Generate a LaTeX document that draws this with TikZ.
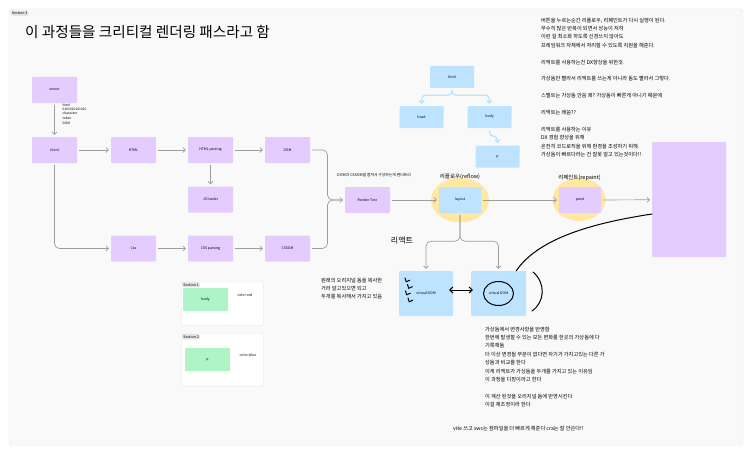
\documentclass[tikz,border=0pt]{standalone}
\usepackage{fontspec}
\setmainfont{Noto Sans CJK KR}
\usetikzlibrary{arrows.meta,positioning}
\definecolor{boxpurple}{HTML}{E4CCFF}
\definecolor{boxblue}{HTML}{BDE3FF}
\definecolor{boxgreen}{HTML}{AFF4C6}
\definecolor{hiyellow}{HTML}{FFE8A3}
\definecolor{linegray}{HTML}{9E9E9E}
\definecolor{framegray}{HTML}{E4E4E4}
\definecolor{pagegray}{HTML}{F9F9F9}

\begin{document}
\begin{tikzpicture}[x=1pt,y=-1pt,>={Straight Barb[length=2.5pt,width=5pt]},
  box/.style={minimum width=45pt,minimum height=26pt,inner sep=0pt,rounded corners=1pt,font=\fontsize{3.5}{4}\selectfont},
  purplebox/.style={box,fill=boxpurple},
  bluebox/.style={box,fill=boxblue,minimum width=44pt,minimum height=22pt},
  greenbox/.style={box,fill=boxgreen,minimum height=23pt},
  flow/.style={->,draw=linegray,line width=0.7pt,rounded corners=5pt,shorten <=2pt,shorten >=2pt},
  treeflow/.style={->,draw=boxblue,line width=1.3pt,rounded corners=4pt},
  pen/.style={black,line width=1pt,line cap=round,line join=round},
  tag/.style={fill=framegray,rounded corners=1.5pt,inner sep=1.2pt,anchor=north west,font=\fontsize{3.6}{4}\selectfont},
  note/.style={align=left,anchor=north west,inner sep=0pt,font=\fontsize{5.2}{8.4}\selectfont}]
  \useasboundingbox (0,0) rectangle (750,452);
  \fill[white] (0,0) rectangle (750,452);
  \draw[framegray,fill=pagegray,rounded corners=3pt] (9,9) rectangle (743,445);
  \node[tag] (sec3) at (10.5,10.5) {Section 3};
  \node[anchor=west,inner sep=0pt,font=\fontsize{14.6}{16}\selectfont] (title) at (25,32) {이 과정들을 크리티컬 렌더링 패스라고 함};

  % html / css pipeline
  \node[purplebox] (server) at (54.5,90) {server};
  \node[purplebox] (client) at (54.5,150) {client};
  \node[purplebox] (html) at (133.5,150) {HTML};
  \node[purplebox] (htmlparse) at (210.5,150) {HTML parsing};
  \node[purplebox] (dom) at (287.5,150) {DOM};
  \node[purplebox] (jsload) at (210.5,199.5) {JS loader};
  \node[purplebox] (css) at (133.5,248.5) {Css};
  \node[purplebox] (cssparse) at (210.5,248.5) {CSS parsing};
  \node[purplebox] (cssom) at (287.5,248.5) {CSSOM};
  \node[purplebox] (render) at (367.5,200) {Render Tree};
  \node[anchor=north west,align=left,inner sep=0pt,font=\fontsize{3.3}{4.3}\selectfont] (tokennote) at (62.5,103.5) {html\\0101010101010\\character\\token\\[1pt]DOM};
  \node[anchor=west,inner sep=0pt,font=\fontsize{3.8}{4}\selectfont] (rendernote) at (337,175) {DOM과 CSSOM을 합쳐서 구성하는게 렌더트리};

  \draw[flow] (server) -- (client);
  \draw[flow] (client) -- (html);
  \draw[flow] (html) -- (htmlparse);
  \draw[flow] (htmlparse) -- (dom);
  \draw[flow] (htmlparse) -- (jsload);
  \draw[flow] (client.south) |- (css.west);
  \draw[flow] (css) -- (cssparse);
  \draw[flow] (cssparse) -- (cssom);
  \coordinate (merge) at (327.5,200);
  \draw[flow] (dom.east) -| (merge) -- (render.west);
  \draw[flow,-] (cssom.east) -| (merge) -- (render.west);

  % reflow / repaint
  \fill[hiyellow] (460,200) ellipse [x radius=29pt,y radius=22.5pt];
  \fill[hiyellow] (579,199.5) ellipse [x radius=26.5pt,y radius=21.5pt];
  \node[bluebox,minimum width=42pt,minimum height=26pt] (layout) at (460,200) {layout};
  \node[purplebox,minimum width=42pt] (paint) at (580,200) {paint};
  \node[inner sep=0pt,font=\fontsize{5.5}{6}\selectfont] (reflowlbl) at (460,176.5) {리플로우(reflow)};
  \node[inner sep=0pt,font=\fontsize{5.5}{6}\selectfont] (repaintlbl) at (579.5,177.5) {리페인트(repaint)};
  \node[fill=boxpurple,rounded corners=1pt,minimum width=74pt,minimum height=115pt,inner sep=0pt,anchor=north west] (bigbox) at (652,142) {};
  \draw[flow] (render) -- (layout);
  \draw[flow] (layout) -- (paint);
  \draw[flow] (paint) -- (bigbox);

  % dom tree
  \node[bluebox] (thtml) at (452,77) {html};
  \node[bluebox] (thead) at (421.5,117) {head};
  \node[bluebox] (tbody) at (489.5,117) {body};
  \node[bluebox] (tp) at (497.5,156.5) {p};
  \draw[treeflow] ([yshift=-2pt]thtml.south) -- ++(0,5) -| ([yshift=2pt]thead.north);
  \draw[treeflow] ([yshift=-2pt]thtml.south) -- ++(0,5) -| ([yshift=2pt]tbody.north);
  \draw[treeflow] ([yshift=-2pt]tbody.south) -- ++(0,6) -| ([yshift=2pt]tp.north);

  % react
  \node[inner sep=0pt,font=\fontsize{8}{9}\selectfont] (reactlbl) at (402,241) {리액트};
  \node[bluebox,minimum width=54pt,minimum height=45pt] (vdomleft) at (426,293.5) {virtual DOM};
  \node[bluebox,minimum width=55pt,minimum height=45pt] (vdomright) at (498.5,293.5) {virtual DOM};
  \draw[flow] (layout.south) -- ++(0,28) -| (vdomleft.north);
  \draw[flow] (layout.south) -- ++(0,28) -| (vdomright.north);
  \draw[pen,<->,>={Straight Barb[length=3pt,width=6pt]}] ([xshift=-4pt,yshift=3.5pt]vdomleft.east) -- ([xshift=2pt,yshift=3.5pt]vdomright.west);
  \foreach \cx/\cy in {405/278,407.5/284.5,405.5/291,408/298}
    \draw[pen] (\cx,\cy) -- ++(1.2,3.8) -- ++(3.6,-1.6);
  \draw[pen] (vdomright.center) ellipse [x radius=15pt,y radius=12pt];
  \draw[pen] (533,272) .. controls (546,283) and (545,302) .. (532,311);
  \coordinate (curveend) at (652,214);
  \draw[pen] ([xshift=-10pt]vdomright.north east) .. controls (540,236) and (600,222) .. (curveend);

  % section frames
  \node[draw=framegray,fill=white,rounded corners=2pt,minimum width=82pt,minimum height=44pt,inner sep=0pt,anchor=north west] (sec1) at (181,281) {};
  \node[tag] (sec1tag) at (182,282) {Section 1};
  \node[greenbox] (greenbody) at (205.5,299.5) {body};
  \node[inner sep=0pt,font=\fontsize{3.5}{4}\selectfont] (colorred) at (245,295) {color:red};
  \node[draw=framegray,fill=white,rounded corners=2pt,minimum width=82pt,minimum height=53pt,inner sep=0pt,anchor=north west] (sec2) at (181,333) {};
  \node[tag] (sec2tag) at (182,334) {Section 2};
  \node[greenbox] (greenp) at (207.5,359.5) {p};
  \node[inner sep=0pt,font=\fontsize{3.5}{4}\selectfont] (colorblue) at (248,355) {color:blue};

  % notes
  \node[note] (topnote) at (541,17.5) {버튼을 누르는순간 리플로우, 리페인트가 다시 실행이 된다.\\
    무수히 많은 반복이 되면서 성능이 저하\\
    이런 걸 최소화 하도록 신경쓰지 않아도\\
    프레임워크 자체에서 처리할 수 있도록 지원을 해준다.\\ ~\\
    리액트를 사용하는건 DX향상을 위한것.\\ ~\\
    가상돔만 빨라서 리액트를 쓰는게 아니라 돔도 빨라서 그렇다.\\ ~\\
    스벨트는 가상돔 안씀 왜? 가상돔이 빠른게 아니기 때문에\\ ~\\
    리액트는 왜씀??\\ ~\\
    리액트를 사용하는 이유\\
    DX 경험 향상을 위해\\
    온전히 코드로직을 위해 환경을 조성하기 위해.\\
    가상돔이 빠르다라는 건 잘못 알고 있는것이다!!};
  \node[note] (copynote) at (321,277.5) {원래의 오리지널 돔을 복사한\\
    거라 알고있으면 되고\\
    두개를 복사해서 가지고 있음};
  \node[note] (diffnote) at (485,326.5) {가상돔에서 변경사항을 반영함\\
    한번에 발생할 수 있는 모든 변화를 한곳의 가상돔에 다\\
    기록해둠\\
    더 이상 변경될 부분이 없다면 자기가 가지고있는 다른 가\\
    상돔과 비교를 한다\\
    이게 리액트가 가상돔을 두개를 가지고 있는 이유임\\
    이 과정을 디핑이라고 한다\\ ~\\
    이 계산 된것을 오리지널 돔에 반영시킨다\\
    이걸 재조정이라 한다};
  \node[anchor=west,inner sep=0pt,font=\fontsize{5.2}{6}\selectfont] (vitenote) at (453,429) {vite 쓰고 swc는 컴파일을 더 빠르게 해준다 cra는 잘 안쓴다!!};
\end{tikzpicture}
\end{document}
